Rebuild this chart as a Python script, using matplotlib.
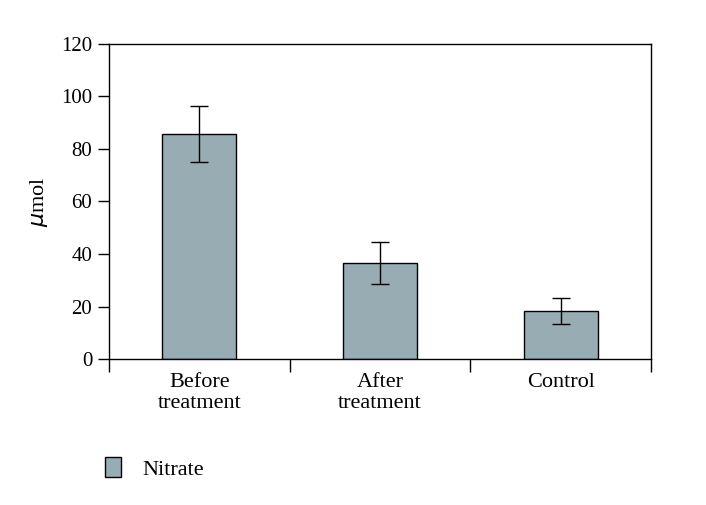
import numpy as np
import matplotlib
matplotlib.use("Agg")
import matplotlib.pyplot as plt
from matplotlib.patches import Patch

plt.rcParams['font.family'] = ['Liberation Serif', 'DejaVu Serif']

categories = ["Before\ntreatment", "After\ntreatment", "Control"]
nitrate = [85.7, 36.6, 18.4]
nitrate_err = [10.7, 8.0, 5.0]
yticks = [0, 20, 40, 60, 80, 100, 120]

bar_color = "#97adb3"

fig = plt.figure(figsize=(7.06, 5.05), dpi=100)
ax = fig.add_axes([0.1544, 0.289, 0.7676, 0.624])

x = np.arange(len(categories))
ax.bar(x, nitrate, width=0.41, color=bar_color, edgecolor="black", linewidth=1.0,
       yerr=nitrate_err, capsize=6.5, error_kw=dict(elinewidth=1.0, capthick=1.0, ecolor="black"))

ax.set_xlim(-0.5, len(categories) - 0.5)
ax.set_ylim(0, 120)
ax.set_yticks(yticks)
ax.tick_params(axis="y", direction="out", length=8, width=1.0, labelsize=15, pad=4)

# category separators as ticks, labels centred without ticks
ax.set_xticks(np.arange(len(categories) + 1) - 0.5)
ax.set_xticklabels([])
ax.tick_params(axis="x", which="major", direction="out", length=9, width=1.0)
ax.set_xticks(x, minor=True)
ax.set_xticklabels(categories, minor=True, fontsize=16, linespacing=1.15)
ax.tick_params(axis="x", which="minor", length=0, pad=10)

for s in ax.spines.values():
    s.set_linewidth(1.0)

ax.set_ylabel("$\\mu$mol", fontsize=16, labelpad=8)

handles = [Patch(facecolor=bar_color, edgecolor="black", linewidth=1.0, label="Nitrate")]
fig.legend(handles=handles, loc="lower left", bbox_to_anchor=(0.12, 0.01), frameon=False,
           fontsize=16, handlelength=0.75, handleheight=1.0, handletextpad=0.95)

fig.savefig("out.png", dpi=100)
